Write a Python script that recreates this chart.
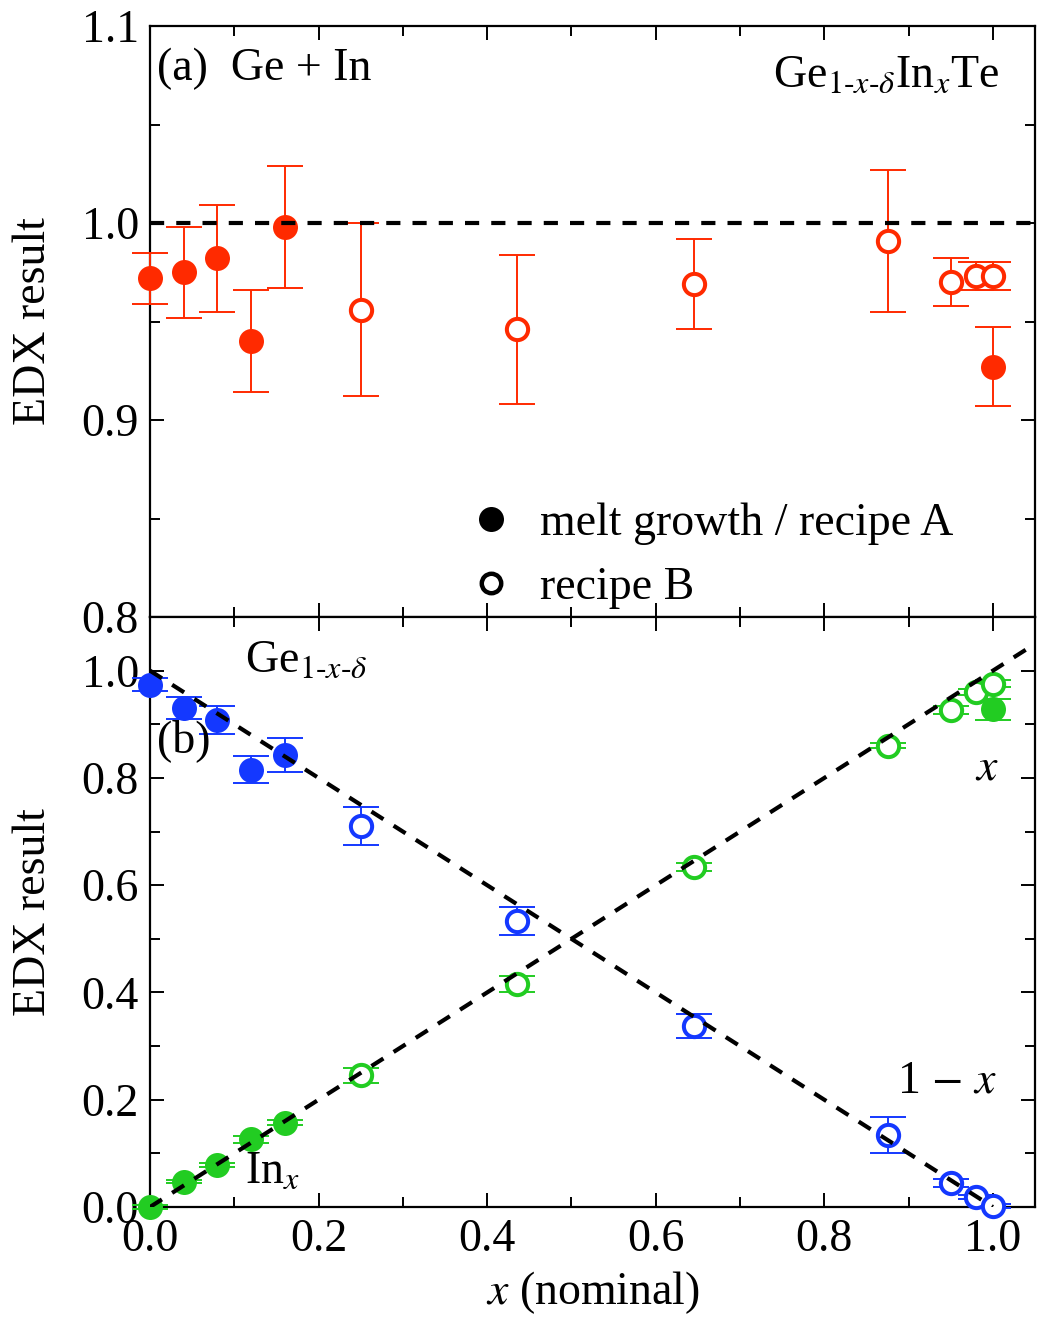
import numpy as np, pandas as pd, matplotlib.pyplot as plt, seaborn as sns
from matplotlib.lines import Line2D
from matplotlib.ticker import MultipleLocator

# ---- data ----
# (a) total Ge + In
x_top_A = [0.0, 0.04, 0.08, 0.12, 0.16, 1.0]
edx_top_A = [0.972, 0.975, 0.982, 0.940, 0.998, 0.927]
err_top_A = [0.013, 0.023, 0.027, 0.026, 0.031, 0.020]
x_top_B = [0.25, 0.435, 0.645, 0.875, 0.95, 0.98, 1.0]
edx_top_B = [0.956, 0.946, 0.969, 0.991, 0.970, 0.973, 0.973]
err_top_B = [0.044, 0.038, 0.023, 0.036, 0.012, 0.007, 0.007]

# (b) Ge (blue) and In (green)
x_ge_A = [0.0, 0.04, 0.08, 0.12, 0.16]
ge_A = [0.974, 0.930, 0.908, 0.815, 0.843]
ge_A_err = [0.012, 0.021, 0.027, 0.025, 0.031]
x_ge_B = [0.25, 0.435, 0.645, 0.875, 0.95, 0.98, 1.0]
ge_B = [0.710, 0.534, 0.338, 0.134, 0.045, 0.019, 0.002]
ge_B_err = [0.035, 0.026, 0.022, 0.033, 0.008, 0.004, 0.003]

x_in_A = [0.0, 0.04, 0.08, 0.12, 0.16, 1.0]
in_A = [0.0, 0.047, 0.078, 0.126, 0.157, 0.928]
in_A_err = [0.003, 0.003, 0.004, 0.006, 0.005, 0.020]
x_in_B = [0.25, 0.435, 0.645, 0.875, 0.95, 0.98, 1.0]
in_B = [0.246, 0.416, 0.634, 0.860, 0.927, 0.960, 0.976]
in_B_err = [0.014, 0.015, 0.007, 0.005, 0.007, 0.005, 0.007]

ref_up = np.array([0.0, 1.05])    # y = x
ref_down = np.array([0.0, 1.0])   # y = 1 - x

RED, BLUE, GREEN = "#ff2a00", "#1438ff", "#22cc22"
DASH = dict(color="black", lw=3.0, ls=(0, (3.4, 2.9)), zorder=5)

sns.set_theme(style="ticks", rc={"text.color": "black", "axes.labelcolor": "black",
                                 "axes.edgecolor": "black", "xtick.color": "black",
                                 "ytick.color": "black"})
plt.rcParams["font.family"] = ["Liberation Serif", "DejaVu Serif"]
plt.rcParams["mathtext.fontset"] = "stix"
plt.rcParams["axes.linewidth"] = 1.6
FS = 33

fig = plt.figure(figsize=(10.54, 13.21), dpi=100)
L, W = 0.1423, 0.8397
ax1 = fig.add_axes([L, 0.5329, W, 0.9803 - 0.5329])
ax2 = fig.add_axes([L, 0.0863, W, 0.5329 - 0.0863])


def draw(ax, x, y, e, c, filled):
    ax.errorbar(x, y, yerr=e, fmt="none", ecolor=c, elinewidth=1.4,
                capsize=13, capthick=1.4, zorder=3, clip_on=False)
    if filled:
        sns.scatterplot(x=x, y=y, ax=ax, s=18 ** 2, color=c, edgecolor=c,
                        linewidth=0, zorder=4, clip_on=False)
    else:
        sns.scatterplot(x=x, y=y, ax=ax, s=15.3 ** 2, color=c, facecolor="white",
                        edgecolor=c, linewidth=2.9, zorder=4, clip_on=False)


# panel (a)
draw(ax1, x_top_B, edx_top_B, err_top_B, RED, False)
draw(ax1, x_top_A, edx_top_A, err_top_A, RED, True)
ax1.axhline(1.0, **DASH)

# panel (b)
draw(ax2, x_ge_B, ge_B, ge_B_err, BLUE, False)
draw(ax2, x_ge_A, ge_A, ge_A_err, BLUE, True)
draw(ax2, x_in_B, in_B, in_B_err, GREEN, False)
draw(ax2, x_in_A, in_A, in_A_err, GREEN, True)
ax2.plot(ref_up, ref_up, **DASH)
ax2.plot(ref_down, 1 - ref_down, **DASH)

for ax in (ax1, ax2):
    ax.set_xlim(0, 1.05)
    ax.xaxis.set_major_locator(MultipleLocator(0.2))
    ax.xaxis.set_minor_locator(MultipleLocator(0.1))
    ax.tick_params(which="both", direction="in", top=True, right=True,
                   width=1.4, labelsize=FS, pad=8)
    ax.tick_params(which="major", length=10)
    ax.tick_params(which="minor", length=7)
    ax.set_ylabel("EDX result", fontsize=FS)
    ax.yaxis.set_label_coords(-0.107, 0.5)

ax1.set_ylim(0.8, 1.1)
ax1.yaxis.set_major_locator(MultipleLocator(0.1))
ax1.yaxis.set_minor_locator(MultipleLocator(0.05))
ax1.set_yticks([0.8, 0.9, 1.0, 1.1], ["0.8", "0.9", "1.0", "1.1"])
ax1.tick_params(labelbottom=False)

ax2.set_ylim(0, 1.1)
ax2.yaxis.set_major_locator(MultipleLocator(0.2))
ax2.yaxis.set_minor_locator(MultipleLocator(0.1))
ax2.set_yticks([0, 0.2, 0.4, 0.6, 0.8, 1.0], ["0.0", "0.2", "0.4", "0.6", "0.8", "1.0"])
ax2.set_xticks([0, 0.2, 0.4, 0.6, 0.8, 1.0], ["0.0", "0.2", "0.4", "0.6", "0.8", "1.0"])
ax2.set_xlabel(r"$x$ (nominal)", fontsize=FS, labelpad=6)

# annotations
ax1.text(0.008, 0.909, "(a)  Ge + In", transform=ax1.transAxes, fontsize=FS, va="baseline")
ax1.text(0.96, 0.897, r"Ge$_{1\text{-}x\text{-}\delta}$In$_x$Te", transform=ax1.transAxes,
         fontsize=FS, ha="right", va="baseline")
ax2.text(0.113, 0.998, r"Ge$_{1\text{-}x\text{-}\delta}$", fontsize=FS, va="baseline")
ax2.text(0.008, 0.849, "(b)", fontsize=FS, va="baseline")
ax2.text(0.993, 0.797, r"$x$", fontsize=FS, ha="center", va="baseline")
ax2.text(1.005, 0.213, r"1 $-$ $x$", fontsize=FS, ha="right", va="baseline")
ax2.text(0.113, 0.045, r"In$_x$", fontsize=FS, va="baseline")

handles = [Line2D([], [], ls="none", marker="o", ms=18, mfc="black", mec="black", mew=0),
           Line2D([], [], ls="none", marker="o", ms=14, mfc="white", mec="black", mew=3.2)]
ax1.legend(handles, ["melt growth / recipe A", "recipe B"], loc="upper left",
           bbox_to_anchor=(0.359, 0.194), frameon=False, fontsize=FS, borderpad=0,
           borderaxespad=0, handlelength=1.0, handletextpad=0.58, labelspacing=0.47)

fig.savefig("out.png", dpi=100)
